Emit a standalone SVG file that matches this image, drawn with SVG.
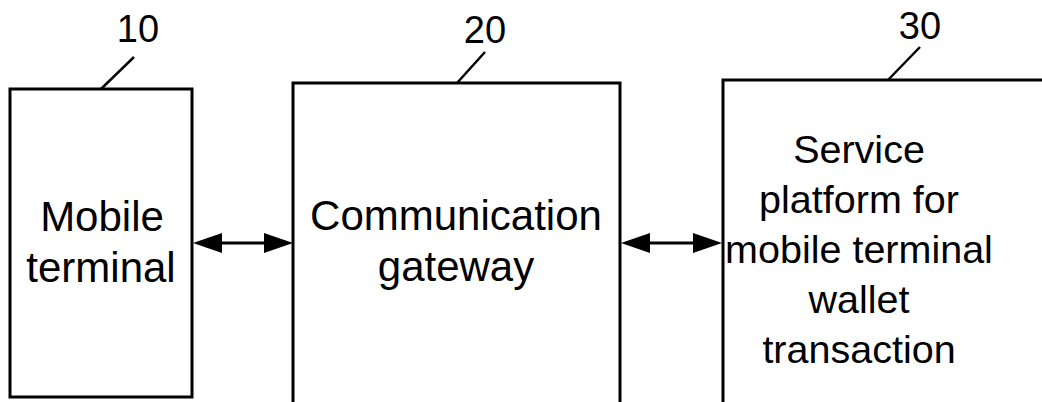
<svg xmlns="http://www.w3.org/2000/svg" width="1042" height="402" viewBox="0 0 1042 402">
  <style>
    .box { fill: none; stroke: #000; stroke-width: 3; }
    .lead { fill: none; stroke: #000; stroke-width: 2.5; }
    .link { fill: none; stroke: #000; stroke-width: 3; }
    .head { fill: #000; stroke: none; }
    .label { font-family: "Liberation Sans", Arial, sans-serif; font-size: 42px; fill: #000; text-anchor: middle; }
    .label.small { font-size: 39.5px; }
    .ref { font-family: "Liberation Sans", Arial, sans-serif; font-size: 38px; fill: #000; text-anchor: middle; }
  </style>
  <rect width="1042" height="402" fill="#fff"/>

  <g id="node-10">
    <rect class="box" x="10" y="89" width="182" height="308"/>
    <line class="lead" x1="101" y1="89" x2="134" y2="57"/>
    <text class="ref" x="138" y="42">10</text>
    <text class="label" x="102" y="231">Mobile</text>
    <text class="label" x="101" y="282">terminal</text>
  </g>

  <g id="node-20">
    <path class="box" d="M293,404 V83 H620 V404"/>
    <line class="lead" x1="457" y1="83" x2="485" y2="52"/>
    <text class="ref" x="485" y="43">20</text>
    <text class="label" x="456" y="230">Communication</text>
    <text class="label" x="456" y="281">gateway</text>
  </g>

  <g id="node-30">
    <path class="box" d="M723,404 V80 H1044"/>
    <line class="lead" x1="888" y1="80" x2="920" y2="47"/>
    <text class="ref" x="920" y="39">30</text>
    <text class="label small" x="859" y="163">Service</text>
    <text class="label small" x="859" y="213">platform for</text>
    <text class="label small" x="859" y="263">mobile terminal</text>
    <text class="label small" x="859" y="313">wallet</text>
    <text class="label small" x="859" y="363">transaction</text>
  </g>

  <g id="connectors">
    <line class="link" x1="215" y1="243" x2="271" y2="243"/>
    <polygon class="head" points="193,243 222,233 222,253"/>
    <polygon class="head" points="293,243 264,233 264,253"/>
    <line class="link" x1="643" y1="243" x2="700" y2="243"/>
    <polygon class="head" points="621,243 650,233 650,253"/>
    <polygon class="head" points="722,243 693,233 693,253"/>
  </g>
</svg>
